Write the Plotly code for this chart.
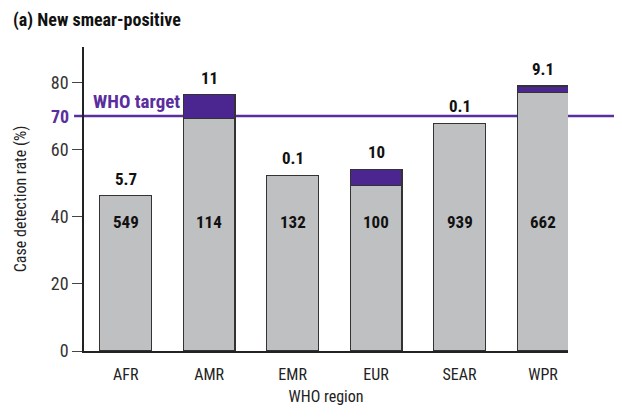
import plotly.graph_objects as go

regions = ["AFR", "AMR", "EMR", "EUR", "SEAR", "WPR"]
base_rate = [46.3, 69.4, 52.4, 49.3, 67.9, 77.1]
extra_rate = [0.0, 7.0, 0.0, 4.8, 0.0, 1.9]
top_labels = ["5.7", "11", "0.1", "10", "0.1", "9.1"]
inner_labels = ["549", "114", "132", "100", "939", "662"]
target = 70
y_ticks = [0, 20, 40, 60, 80]

FONT = "Liberation Sans Narrow, Roboto Condensed, Arial Narrow, sans-serif"
GRAY = "#BFC0C2"
PURPLE = "#4B2590"
LINE = "#5A2E9E"

fig = go.Figure()
fig.add_trace(go.Bar(x=regions, y=base_rate, marker=dict(color=GRAY, line=dict(color="#333333", width=1.2)),
                     width=0.62, showlegend=False, hoverinfo="skip"))
fig.add_trace(go.Bar(x=regions, y=extra_rate, marker=dict(color=PURPLE, line=dict(color="#333333", width=1.2)),
                     width=0.62, showlegend=False, hoverinfo="skip"))

plot_w = 487.0
fig.add_shape(type="line", xref="paper", yref="y", x0=-10 / plot_w, x1=1.12, y0=target, y1=target,
              line=dict(color=LINE, width=2.5), layer="below")

for r, b, e, tl, il in zip(regions, base_rate, extra_rate, top_labels, inner_labels):
    fig.add_annotation(x=r, y=b + e, text=f"<b>{tl}</b>", showarrow=False, yanchor="bottom", yshift=5,
                       font=dict(family=FONT, size=17, color="#111111"))
    fig.add_annotation(x=r, y=38.4, text=f"<b>{il}</b>", showarrow=False, yanchor="middle",
                       font=dict(family=FONT, size=17, color="#111111"))

fig.add_annotation(xref="paper", x=0.015, y=target, text="<b>WHO target</b>", showarrow=False,
                   xanchor="left", yanchor="bottom", yshift=1, font=dict(family=FONT, size=19, color=LINE))
fig.add_annotation(xref="paper", x=0, xanchor="right", xshift=-13, y=target, text="<b>70</b>", showarrow=False,
                   yanchor="middle", font=dict(family=FONT, size=18, color=LINE))
fig.add_annotation(xref="paper", yref="paper", x=0, y=1, xshift=-73, yshift=14, xanchor="left", yanchor="bottom",
                   text="<b>(a) New smear-positive</b>", showarrow=False,
                   font=dict(family=FONT, size=18, color="#111111"))

fig.update_layout(
    barmode="stack",
    width=614, height=410,
    margin=dict(l=73, r=53.5, t=39, b=67.3),
    paper_bgcolor="white", plot_bgcolor="white",
    font=dict(family=FONT, size=16, color="#222222"),
    xaxis=dict(range=[-0.5, 5.3], showline=True, linecolor="#222222", linewidth=1.5, ticks="",
               ticklabelstandoff=8,
               tickfont=dict(size=16), title=dict(text="WHO region", font=dict(size=16), standoff=8)),
    yaxis=dict(range=[0, 90.6], showline=True, linecolor="#222222", linewidth=1.5, ticks="outside",
               ticklen=10, tickwidth=1.2, tickcolor="#444444", tickvals=y_ticks, showgrid=False, zeroline=False,
               tickfont=dict(size=18, color="#333333"),
               title=dict(text="Case detection rate (%)", font=dict(size=16), standoff=20)),
)

fig.write_html("out.html")
